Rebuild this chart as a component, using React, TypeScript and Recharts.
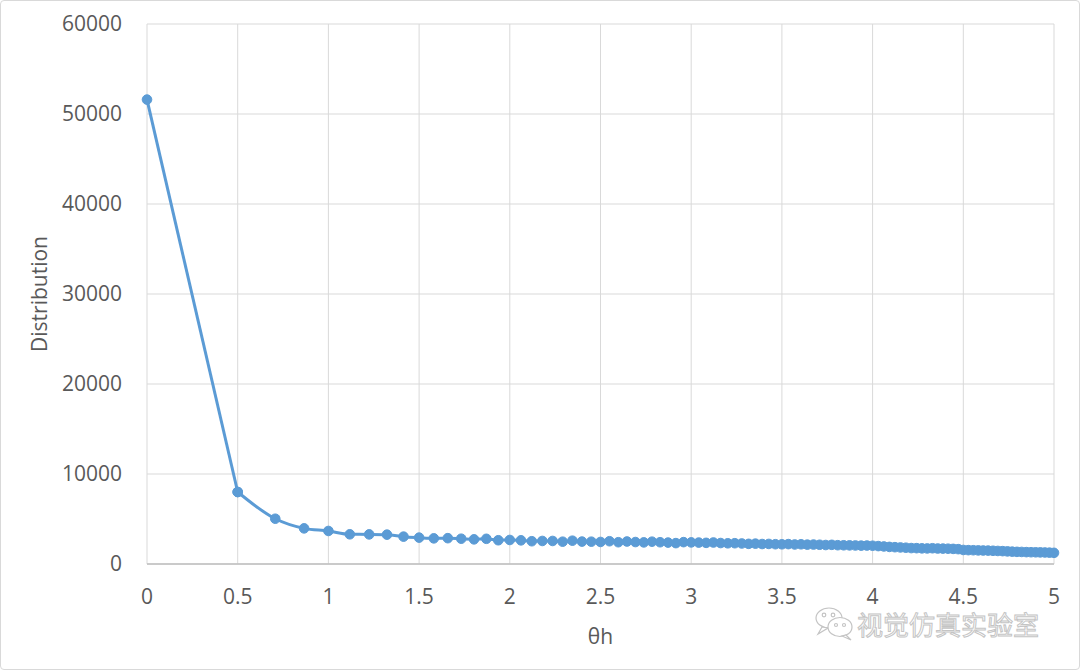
import React from 'react';
import { LineChart, Line, XAxis, YAxis, CartesianGrid, Customized } from 'recharts';

const thetaH = [
  0, 0.5, 0.7071, 0.866, 1.0, 1.118, 1.2247, 1.3229, 1.4142, 1.5,
  1.5811, 1.6583, 1.7321, 1.8028, 1.8708, 1.9365, 2.0, 2.0616, 2.1213, 2.1794,
  2.2361, 2.2913, 2.3452, 2.3979, 2.4495, 2.5, 2.5495, 2.5981, 2.6458, 2.6926,
  2.7386, 2.7839, 2.8284, 2.8723, 2.9155, 2.958, 3.0, 3.0414, 3.0822, 3.1225,
  3.1623, 3.2016, 3.2404, 3.2787, 3.3166, 3.3541, 3.3912, 3.4278, 3.4641, 3.5,
  3.5355, 3.5707, 3.6056, 3.6401, 3.6742, 3.7081, 3.7417, 3.7749, 3.8079, 3.8406,
  3.873, 3.9051, 3.937, 3.9686, 4.0, 4.0311, 4.062, 4.0927, 4.1231, 4.1533,
  4.1833, 4.2131, 4.2426, 4.272, 4.3012, 4.3301, 4.3589, 4.3875, 4.4159, 4.4441,
  4.4721, 4.5, 4.5277, 4.5552, 4.5826, 4.6098, 4.6368, 4.6637, 4.6904, 4.717,
  4.7434, 4.7697, 4.7958, 4.8218, 4.8477, 4.8734, 4.899, 4.9244, 4.9497, 4.9749,
  5.0,
];

const distribution = [
  51600, 8000, 5030, 3960, 3670, 3300, 3290, 3260, 3040, 2930,
  2850, 2870, 2810, 2740, 2800, 2640, 2670, 2630, 2530, 2560,
  2560, 2480, 2590, 2490, 2480, 2450, 2530, 2420, 2500, 2440,
  2400, 2480, 2420, 2380, 2320, 2430, 2400, 2380, 2350, 2390,
  2330, 2300, 2310, 2280, 2240, 2260, 2220, 2230, 2200, 2190,
  2210, 2170, 2190, 2150, 2160, 2140, 2110, 2130, 2090, 2080,
  2070, 2060, 2040, 2050, 2030, 1990, 1950, 1900, 1870, 1840,
  1810, 1770, 1760, 1740, 1730, 1750, 1720, 1710, 1700, 1680,
  1650, 1560, 1540, 1530, 1510, 1500, 1490, 1470, 1450, 1430,
  1400, 1370, 1350, 1340, 1320, 1310, 1300, 1290, 1280, 1260,
  1240,
];

const xTicks = [0, 0.5, 1, 1.5, 2, 2.5, 3, 3.5, 4, 4.5, 5];
const yTicks = [0, 10000, 20000, 30000, 40000, 50000, 60000];

// Steep first segment drawn straight (as in the source), the rest smoothed.
const data = thetaH.map((x, i) => ({
  x,
  head: i <= 1 ? distribution[i] : null,
  tail: i >= 1 ? distribution[i] : null,
}));

const FONT = '"Open Sans", sans-serif';
const TEXT = '#595959';
const BLUE = '#5b9bd5';

const Watermark = () => (
  <g>
    <g fill="#fff" stroke="#c4c4c4" strokeWidth={1.2}>
      <ellipse cx={829} cy={618} rx={13} ry={10} />
      <path d="M 822 627 L 818 634 L 828 628 Z" />
      <ellipse cx={840} cy={627} rx={12} ry={9.5} />
      <path d="M 846 635 L 851 640 L 842 636 Z" />
      <circle cx={824} cy={615} r={1.8} />
      <circle cx={833} cy={615} r={1.8} />
      <circle cx={836} cy={625} r={1.5} />
      <circle cx={844} cy={625} r={1.5} />
    </g>
    <text
      x={857}
      y={635}
      fontFamily='"Noto Sans CJK SC", sans-serif'
      fontSize={26}
      fill="#fff"
      stroke="#c4c4c4"
      strokeWidth={1}
    >
      视觉仿真实验室
    </text>
  </g>
);

export default function App() {
  return (
    <div
      style={{
        position: 'absolute',
        left: 0,
        top: 0,
        width: 1080,
        height: 670,
        background: '#fff',
        boxSizing: 'border-box',
        border: '1px solid #d9d9d9',
        borderRadius: 4,
        overflow: 'hidden',
      }}
    >
      <div style={{ position: 'absolute', left: -1, top: -1 }}>
        <LineChart
          width={1080}
          height={670}
          data={data}
          margin={{ top: 24, right: 26, bottom: 16, left: 0 }}
        >
          <CartesianGrid stroke="#d9d9d9" strokeWidth={1} />
          <XAxis
            type="number"
            dataKey="x"
            domain={[0, 5]}
            ticks={xTicks}
            interval={0}
            height={90}
            tickLine={false}
            tickSize={0}
            tickMargin={25}
            axisLine={{ stroke: '#bfbfbf', strokeWidth: 1.5 }}
            tick={{ fill: TEXT, fontSize: 21, fontFamily: FONT }}
            label={{
              value: 'θh',
              position: 'insideBottom',
              offset: 10,
              fill: TEXT,
              fontSize: 21,
              fontFamily: FONT,
            }}
          />
          <YAxis
            type="number"
            domain={[0, 60000]}
            ticks={yTicks}
            interval={0}
            width={147}
            tickLine={false}
            axisLine={false}
            tickSize={0}
            tickMargin={25}
            tick={{ fill: TEXT, fontSize: 21, fontFamily: FONT }}
            label={{
              value: 'Distribution',
              angle: -90,
              position: 'insideLeft',
              offset: 40,
              fill: TEXT,
              fontSize: 21,
              fontFamily: FONT,
              style: { textAnchor: 'middle' },
            }}
          />
          <Line
            type="linear"
            dataKey="head"
            stroke={BLUE}
            strokeWidth={3}
            dot={{ r: 4.8, fill: BLUE, stroke: BLUE, strokeWidth: 1 }}
            activeDot={false}
            connectNulls={false}
            isAnimationActive={false}
          />
          <Line
            type="monotone"
            dataKey="tail"
            stroke={BLUE}
            strokeWidth={3}
            dot={{ r: 4.8, fill: BLUE, stroke: BLUE, strokeWidth: 1 }}
            activeDot={false}
            connectNulls={false}
            isAnimationActive={false}
          />
          <Customized component={Watermark} />
        </LineChart>
      </div>
    </div>
  );
}
